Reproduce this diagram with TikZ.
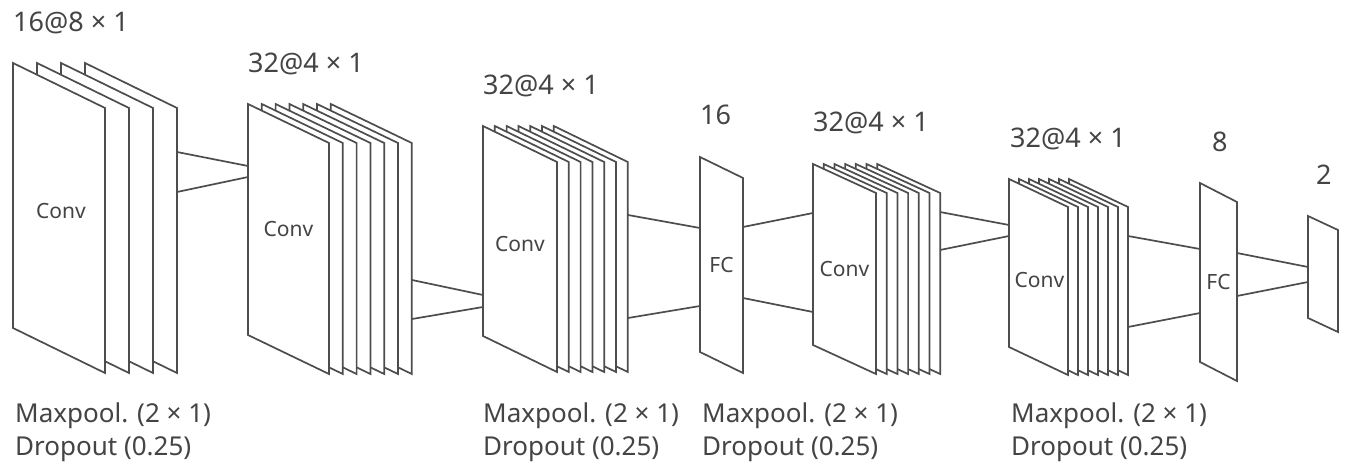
\documentclass[tikz,border=0pt]{standalone}
\usepackage{fontspec}
\setmainfont{Noto Sans}
\usepackage{xcolor}
\usetikzlibrary{calc}
\definecolor{gris}{HTML}{4D4D4D}
\definecolor{letra}{HTML}{444444}

% hojas apiladas: nombre, x, y, ancho, alto, caida, n, paso
\newcommand{\hojas}[8]{%
  \foreach \k in {#7,...,1}{%
    \draw[hoja] ({#2+(\k-1)*#8},#3) -- ++(#4,#6) -- ++(0,#5) -- ++(-#4,-#6) -- cycle;}%
  \coordinate (#1) at ({#2+#4/2},{#3+(#5+#6)/2});}

\begin{document}
\begin{tikzpicture}[x=1pt,y=-1pt,
  hoja/.style={draw=gris,line width=1.7pt,fill=white},
  enlace/.style={draw=gris,line width=1.7pt},
  dim/.style={text=letra,inner sep=0pt,anchor=base west,font=\fontsize{27}{31}\selectfont},
  capa/.style={text=letra,inner sep=0pt,font=\fontsize{21}{25}\selectfont},
  nota/.style={text=letra,inner sep=0pt,anchor=base west,font=\fontsize{26}{30}\selectfont}]
  \fill[white] (0,0) rectangle (1350,473);
  \useasboundingbox (0,0) rectangle (1350,473);
  % bloques
  \hojas{b1}{13}{63}{92}{265}{45}{4}{24}
  \hojas{b2}{248}{104}{81}{231}{39}{7}{13.8}
  \hojas{b3}{483}{126}{74}{210}{36}{7}{11.8}
  \hojas{fc1}{700}{157}{43}{195}{21}{1}{0}
  \hojas{b4}{813}{164}{63}{181}{29}{7}{10.7}
  \hojas{b5}{1009}{179}{59}{168}{28}{7}{10}
  \hojas{fc2}{1200}{183}{37}{179}{19}{1}{0}
  \hojas{out}{1308}{216}{30}{102}{14}{1}{0}
  % textos dentro
  \node[capa] (c1) at ($(b1)+(2,-7)$) {Conv};
  \node[capa] (c2) at ($(b2)+(0,-10)$) {Conv};
  \node[capa] (c3) at ($(b3)+(0,-5)$) {Conv};
  \node[capa] (c4) at (b4) {Conv};
  \node[capa] (c5) at ($(b5)+(1,3)$) {Conv};
  \node[capa] (f1) at (fc1) {FC};
  \node[capa] (f2) at (fc2) {FC};
  % dimensiones
  \node[dim] (d1) at (13,32) {16@8 × 1};
  \node[dim] (d2) at (248,73) {32@4 × 1};
  \node[dim] (d3) at (483,95) {32@4 × 1};
  \node[dim] (d4) at (700,125) {16};
  \node[dim] (d5) at (813,132) {32@4 × 1};
  \node[dim] (d6) at (1010,148) {32@4 × 1};
  \node[dim] (d7) at (1212,152) {8};
  \node[dim] (d8) at (1316,185) {2};
  % maxpool y dropout
  \node[nota] (m1) at (15,422) {Maxpool. (2 × 1)};
  \node[nota] (p1) at (15,455) {Dropout (0.25)};
  \node[nota] (m3) at (483,422) {Maxpool. (2 × 1)};
  \node[nota] (p3) at (483,455) {Dropout (0.25)};
  \node[nota] (m4) at (702,422) {Maxpool. (2 × 1)};
  \node[nota] (p4) at (702,455) {Dropout (0.25)};
  \node[nota] (m6) at (1011,422) {Maxpool. (2 × 1)};
  \node[nota] (p6) at (1011,455) {Dropout (0.25)};
  % puntos de enlace
  \coordinate (s1a) at (177,152); \coordinate (s1b) at (177,192);
  \coordinate (e2a) at (248,166); \coordinate (e2b) at (248,177);
  \coordinate (s2a) at (412,280); \coordinate (s2b) at (412,319);
  \coordinate (e3a) at (483,295); \coordinate (e3b) at (483,307);
  \coordinate (s3a) at (628,215); \coordinate (s3b) at (628,318);
  \coordinate (e4a) at (700,228); \coordinate (e4b) at (700,306);
  \coordinate (s4a) at (743,227); \coordinate (s4b) at (743,298);
  \coordinate (e5a) at (813,213); \coordinate (e5b) at (813,312);
  \coordinate (s5a) at (940,212); \coordinate (s5b) at (940,250);
  \coordinate (e6a) at (1009,225); \coordinate (e6b) at (1009,236);
  \coordinate (s6a) at (1128,236); \coordinate (s6b) at (1128,327);
  \coordinate (e7a) at (1200,249); \coordinate (e7b) at (1200,313);
  \coordinate (s7a) at (1237,253); \coordinate (s7b) at (1237,296);
  \coordinate (e8a) at (1308,267); \coordinate (e8b) at (1308,282);
  \draw[enlace] (s1a) -- (e2a); \draw[enlace] (s1b) -- (e2b);
  \draw[enlace] (s2a) -- (e3a); \draw[enlace] (s2b) -- (e3b);
  \draw[enlace] (s3a) -- (e4a); \draw[enlace] (s3b) -- (e4b);
  \draw[enlace] (s4a) -- (e5a); \draw[enlace] (s4b) -- (e5b);
  \draw[enlace] (s5a) -- (e6a); \draw[enlace] (s5b) -- (e6b);
  \draw[enlace] (s6a) -- (e7a); \draw[enlace] (s6b) -- (e7b);
  \draw[enlace] (s7a) -- (e8a); \draw[enlace] (s7b) -- (e8b);
\end{tikzpicture}
\end{document}
